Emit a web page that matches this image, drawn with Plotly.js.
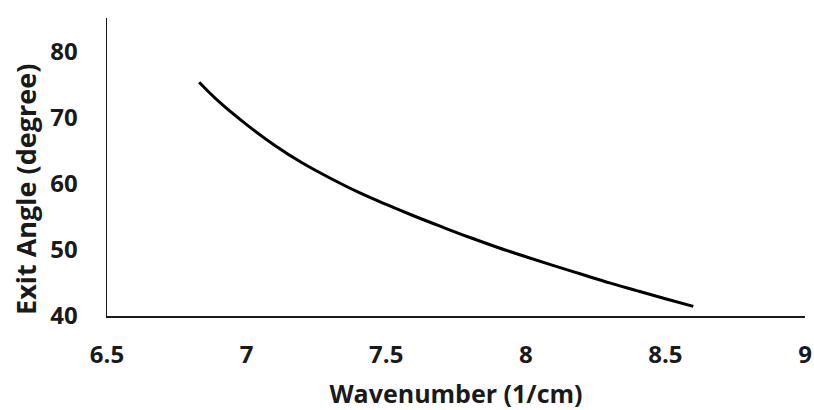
<!DOCTYPE html>
<html>
<head>
<meta charset="utf-8">
<script src="https://cdn.plot.ly/plotly-3.0.1.min.js"></script>
<style>
  html, body { margin: 0; padding: 0; background: #fff; }
  #chart { width: 814px; height: 410px; }
</style>
</head>
<body>
<div id="chart"></div>
<script>
// Wavenumber (1/cm)
const wavenumber = [6.83, 6.9, 7.0, 7.1, 7.2, 7.3, 7.4, 7.5, 7.6, 7.7, 7.8, 7.9, 8.0, 8.1, 8.2, 8.3, 8.4, 8.5, 8.6];
// Exit angle (degree)
const exitAngle  = [75.3, 72.4, 68.9, 65.8, 63.1, 60.8, 58.7, 56.85, 55.1, 53.45, 51.85, 50.35, 48.95, 47.6, 46.3, 45.0, 43.8, 42.6, 41.45];

const xTickVals = [6.5, 7, 7.5, 8, 8.5, 9];
const xTickText = ['6.5', '7', '7.5', '8', '8.5', '9'];
const yTickVals = [40, 50, 60, 70, 80];
const yTickText = ['40', '50', '60', '70', '80'];

const xTitle = 'Wavenumber (1/cm)';
const yTitle = 'Exit Angle (degree)';

const fontFamily = '"Open Sans", Lato, "DejaVu Sans", sans-serif';
const ink = '#1a1a1a';

const trace = {
  x: wavenumber,
  y: exitAngle,
  type: 'scatter',
  mode: 'lines',
  line: { color: '#000000', width: 3, shape: 'spline', smoothing: 1 },
  hoverinfo: 'x+y',
  showlegend: false
};

const layout = {
  width: 814,
  height: 410,
  margin: { l: 107, r: 9, t: 18, b: 94, pad: 0 },
  paper_bgcolor: '#ffffff',
  plot_bgcolor: '#ffffff',
  font: { family: fontFamily, color: ink },
  xaxis: {
    range: [6.5, 9],
    tickvals: xTickVals,
    ticktext: xTickText,
    showgrid: false,
    zeroline: false,
    showline: true,
    linecolor: ink,
    linewidth: 1.5,
    ticks: '',
    ticklabelstandoff: 17,
    tickfont: { family: fontFamily, size: 24, color: ink, weight: 'bold' },
    title: {
      text: '<b>' + xTitle + '</b>',
      font: { family: fontFamily, size: 25, color: ink },
      standoff: 17
    }
  },
  yaxis: {
    range: [40, 85],
    tickvals: yTickVals,
    ticktext: yTickText,
    showgrid: false,
    zeroline: false,
    showline: true,
    linecolor: ink,
    linewidth: 1.5,
    ticks: '',
    ticklabelstandoff: 23,
    tickfont: { family: fontFamily, size: 24, color: ink, weight: 'bold' },
    title: { text: '' }
  },
  annotations: [{
    text: '<b>' + yTitle + '</b>',
    xref: 'paper', yref: 'paper',
    x: -0.116, y: 0.423,
    xanchor: 'center', yanchor: 'middle',
    textangle: -90,
    showarrow: false,
    font: { family: fontFamily, size: 27, color: ink }
  }]
};

Plotly.newPlot('chart', [trace], layout, { displayModeBar: false, staticPlot: true });
</script>
</body>
</html>
